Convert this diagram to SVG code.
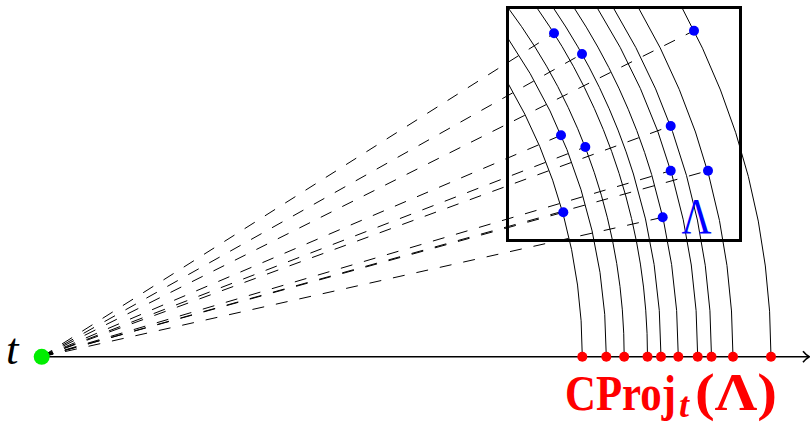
<svg xmlns="http://www.w3.org/2000/svg" width="810" height="424" viewBox="0 0 810 424">
<style>
.dash{fill:none;stroke:#000;stroke-width:1;stroke-dasharray:12 12}
.arc{fill:none;stroke:#000;stroke-width:1}
.axis{fill:none;stroke:#000;stroke-width:1.6}
.box{fill:none;stroke:#000;stroke-width:3}
.bdot{fill:#0000ff}
.rdot{fill:#ff0000}
.lbl{font-family:"Liberation Serif","Times New Roman",serif}
</style>
<rect width="810" height="424" fill="#fff"/>
<g id="connectors">
<path class="dash" d="M41.7 356.8L554 33.3"/>
<path class="dash" d="M41.7 356.8L582 54"/>
<path class="dash" d="M41.7 356.8L694 30.7"/>
<path class="dash" d="M41.7 356.8L561 135.3"/>
<path class="dash" d="M41.7 356.8L585.3 147"/>
<path class="dash" d="M41.7 356.8L670.7 126"/>
<path class="dash" d="M41.7 356.8L670.7 170.7"/>
<path class="dash" d="M41.7 356.8L708 170.7"/>
<path class="dash" d="M41.7 356.8L563.3 212.3"/>
<path class="dash" d="M41.7 356.8L662.7 217.3"/>
</g>
<g id="arcs">
<path class="arc" d="M582.3 356.8A540.6 540.6 0 0 0 507.5 82.4"/>
<path class="arc" d="M606.3 356.8A564.6 564.6 0 0 0 507.5 37.7"/>
<path class="arc" d="M624.2 356.8A582.5 582.5 0 0 0 507.85 7.5"/>
<path class="arc" d="M647.5 356.8A605.8 605.8 0 0 0 536.7 7.5"/>
<path class="arc" d="M661 356.8A619.3 619.3 0 0 0 553.1 7.5"/>
<path class="arc" d="M678.3 356.8A636.6 636.6 0 0 0 573.9 7.5"/>
<path class="arc" d="M697.7 356.8A656 656 0 0 0 597 7.5"/>
<path class="arc" d="M711.5 356.8A669.8 669.8 0 0 0 613.2 7.5"/>
<path class="arc" d="M733 356.8A691.3 691.3 0 0 0 638.3 7.5"/>
<path class="arc" d="M771 356.8A729.3 729.3 0 0 0 681.9 7.5"/>
</g>
<g id="axis">
<path class="axis" d="M41.7 356.8H808.5"/>
<path class="axis" d="M803 351.3Q806 355 809.3 356.8Q806 358.6 803 362.3" stroke-width="1.3"/>
</g>
<g id="lambda-box">
<rect class="box" x="507.5" y="7.5" width="233" height="233"/>
<text class="lbl" transform="translate(681.5 233.3) scale(0.83 1)" font-size="50" fill="#0000ff">Λ</text>
</g>
<g id="points">
<circle class="bdot" cx="554" cy="33.3" r="5"/>
<circle class="bdot" cx="582" cy="54" r="5"/>
<circle class="bdot" cx="694" cy="30.7" r="5"/>
<circle class="bdot" cx="561" cy="135.3" r="5"/>
<circle class="bdot" cx="585.3" cy="147" r="5"/>
<circle class="bdot" cx="670.7" cy="126" r="5"/>
<circle class="bdot" cx="670.7" cy="170.7" r="5"/>
<circle class="bdot" cx="708" cy="170.7" r="5"/>
<circle class="bdot" cx="563.3" cy="212.3" r="5"/>
<circle class="bdot" cx="662.7" cy="217.3" r="5"/>
</g>
<g id="projections">
<circle class="rdot" cx="582.3" cy="356.8" r="5"/>
<circle class="rdot" cx="606.3" cy="356.8" r="5"/>
<circle class="rdot" cx="624.2" cy="356.8" r="5"/>
<circle class="rdot" cx="647.5" cy="356.8" r="5"/>
<circle class="rdot" cx="661" cy="356.8" r="5"/>
<circle class="rdot" cx="678.3" cy="356.8" r="5"/>
<circle class="rdot" cx="697.7" cy="356.8" r="5"/>
<circle class="rdot" cx="711.5" cy="356.8" r="5"/>
<circle class="rdot" cx="733" cy="356.8" r="5"/>
<circle class="rdot" cx="771" cy="356.8" r="5"/>
</g>
<g id="t">
<circle cx="41.7" cy="356.8" r="8" fill="#00ee00"/>
<text class="lbl" x="6" y="364" font-size="45" font-style="italic">t</text>
</g>
<g id="cproj-label" fill="#ff0000" font-weight="bold">
<text class="lbl" transform="translate(565 410) scale(0.84 1)" font-size="51">CProj</text>
<text class="lbl" x="679" y="417" font-size="36" font-style="italic">t</text>
<text class="lbl" transform="translate(695 410) scale(1.14 1)" font-size="52">(Λ)</text>
</g>
</svg>
